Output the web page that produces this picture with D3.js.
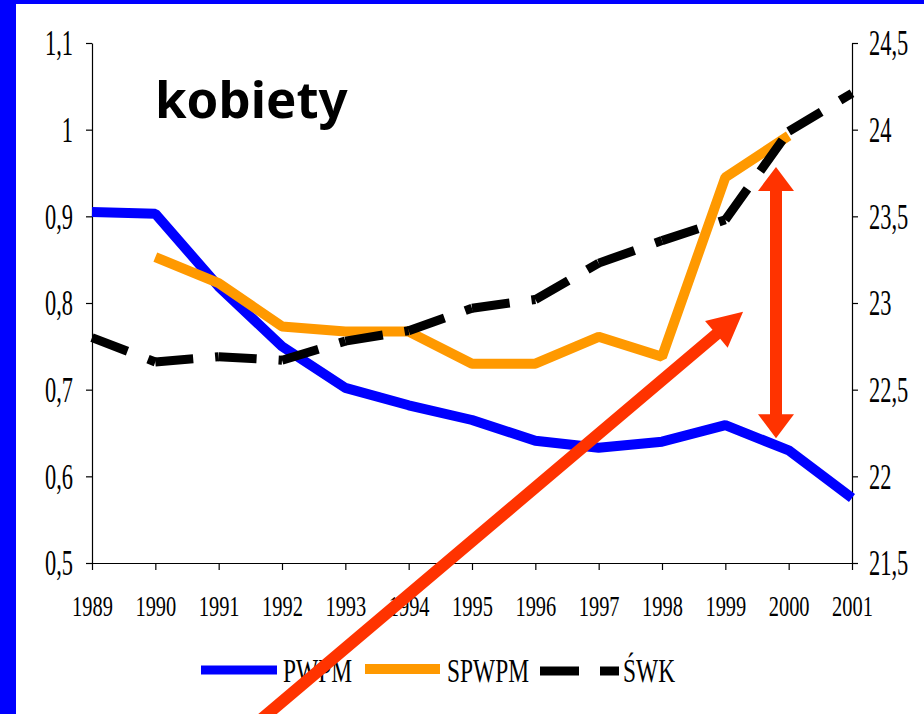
<!DOCTYPE html>
<html>
<head>
<meta charset="utf-8">
<script src="https://cdn.jsdelivr.net/npm/d3@7"></script>
<style>
  body { margin: 0; background: #fff; }
  svg { display: block; }
</style>
</head>
<body>
<div id="chart"></div>
<script>
// Data
const years = [1989, 1990, 1991, 1992, 1993, 1994, 1995, 1996, 1997, 1998, 1999, 2000, 2001];
const pwpm  = [0.905, 0.903, 0.819, 0.750, 0.702, 0.682, 0.665, 0.641, 0.633, 0.640, 0.659, 0.630, 0.575];
const spwpm = [null, 0.853, 0.823, 0.773, 0.767, 0.767, 0.730, 0.730, 0.761, 0.738, 0.945, 0.993, null];
const swk   = [22.80, 22.66, 22.69, 22.67, 22.78, 22.84, 22.97, 23.02, 23.23, 23.36, 23.48, 23.99, 24.21];
const leftTicks  = [0.5, 0.6, 0.7, 0.8, 0.9, 1.0, 1.1];
const rightTicks = [21.5, 22, 22.5, 23, 23.5, 24, 24.5];
const legendNames = ["PWPM", "SPWPM", "ŚWK"];
const title = "kobiety";
// annotation arrows, in data units (year, left-axis value)
const arrowDiag = [[1991.29, 0.296], [1999.28, 0.790]];
const arrowVert = [[1999.8, 0.644], [1999.8, 0.957]];

const width = 924, height = 714;
const margin = { top: 43, right: 72, bottom: 151, left: 92 };

const svg = d3.select("#chart").append("svg")
    .attr("width", width)
    .attr("height", height);

// blue frame (top + left)
svg.append("rect").attr("x", 0).attr("y", 0).attr("width", width).attr("height", 4).attr("fill", "#0000ff");
svg.append("rect").attr("x", 0).attr("y", 0).attr("width", 16).attr("height", height).attr("fill", "#0000ff");

const x = d3.scalePoint()
    .domain(years)
    .range([margin.left, width - margin.right]);
const xYear = d3.scaleLinear()
    .domain([years[0], years[years.length - 1]])
    .range([margin.left, width - margin.right]);
const yL = d3.scaleLinear().domain([0.5, 1.1]).range([height - margin.bottom, margin.top]);
const yR = d3.scaleLinear().domain([21.5, 24.5]).range([height - margin.bottom, margin.top]);

const pl = d3.formatLocale({ decimal: ",", thousands: " ", grouping: [3], currency: ["", " zł"] });
const fmt = pl.format(".1~f");

const serif = "'Liberation Serif', 'Times New Roman', serif";

// Axes
const gL = svg.append("g")
    .attr("transform", `translate(${margin.left},0)`)
    .call(d3.axisLeft(yL).tickValues(leftTicks).tickFormat(fmt).tickSize(6).tickSizeOuter(0));
gL.selectAll("text")
    .attr("x", -19 / 0.64).attr("dy", "0.34em")
    .attr("transform", "scale(0.64,1)")
    .style("font-family", serif).style("font-size", "35px").attr("fill", "#000");

const gR = svg.append("g")
    .attr("transform", `translate(${width - margin.right},0)`)
    .call(d3.axisRight(yR).tickValues(rightTicks).tickFormat(fmt).tickSize(6).tickSizeOuter(0));
gR.selectAll("text")
    .attr("x", 17 / 0.64).attr("dy", "0.34em")
    .attr("transform", "scale(0.64,1)")
    .style("font-family", serif).style("font-size", "35px").attr("fill", "#000");

const gX = svg.append("g")
    .attr("transform", `translate(0,${height - margin.bottom})`)
    .call(d3.axisBottom(x).tickSize(7).tickSizeOuter(0));
gX.selectAll("text")
    .attr("y", 53).attr("dy", 0)
    .attr("transform", "scale(0.68,1)")
    .style("font-family", serif).style("font-size", "30px").attr("fill", "#000");
gX.selectAll(".tick text").each(function(d) {
    d3.select(this).attr("x", 0);
});

svg.selectAll(".domain, .tick line").attr("stroke", "#000").attr("stroke-width", 1.2);

// Lines
const lineL = d3.line()
    .defined(d => d.v != null)
    .x(d => x(d.year))
    .y(d => yL(d.v));

svg.append("path")
    .datum(years.map((year, i) => ({ year, v: pwpm[i] })))
    .attr("fill", "none")
    .attr("stroke", "#0000ff")
    .attr("stroke-width", 10)
    .attr("stroke-linejoin", "bevel")
    .attr("d", lineL);

svg.append("path")
    .datum(years.map((year, i) => ({ year, v: spwpm[i] })))
    .attr("fill", "none")
    .attr("stroke", "#ff9900")
    .attr("stroke-width", 10)
    .attr("stroke-linejoin", "bevel")
    .attr("d", lineL);

// dashed line, one piece per segment so the dash restarts at each year
const swkSegs = d3.pairs(years.map((year, i) => ({ year, v: swk[i] })));
svg.append("g").selectAll("line")
    .data(swkSegs)
    .join("line")
    .attr("x1", d => x(d[0].year))
    .attr("y1", d => yR(d[0].v))
    .attr("x2", d => x(d[1].year))
    .attr("y2", d => yR(d[1].v))
    .attr("stroke", "#000")
    .attr("stroke-width", 9)
    .attr("stroke-dasharray", "38,22");

// Title
svg.append("text")
    .attr("x", 155)
    .attr("y", 118)
    .attr("font-family", "'Noto Sans', sans-serif")
    .attr("font-weight", "bold")
    .attr("font-size", "51px")
    .attr("fill", "#000")
    .text(title);

// Legend
const legend = [
    { name: legendNames[0], color: "#0000ff", x1: 201, x2: 277, tx: 283, y: 670, dash: null, w: 9 },
    { name: legendNames[1], color: "#ff9900", x1: 365, x2: 440, tx: 447, y: 669, dash: null, w: 10 },
    { name: legendNames[2], color: "#000",    x1: 540, x2: 619, tx: 623, y: 671, dash: "39,21", w: 9 }
];
const lg = svg.append("g").selectAll("g").data(legend).join("g");
lg.append("line")
    .attr("x1", d => d.x1).attr("x2", d => d.x2)
    .attr("y1", d => d.y).attr("y2", d => d.y)
    .attr("stroke", d => d.color)
    .attr("stroke-width", d => d.w)
    .attr("stroke-dasharray", d => d.dash);
lg.append("text")
    .attr("transform", d => `translate(${d.tx},682) scale(0.71,1)`)
    .attr("font-family", serif)
    .attr("font-size", "33px")
    .attr("fill", "#000")
    .text(d => d.name);

// Red arrows
function arrowPath(p0, p1, shaft, headW, headL, both) {
    const dx = p1[0] - p0[0], dy = p1[1] - p0[1];
    const len = Math.hypot(dx, dy);
    const ux = dx / len, uy = dy / len, nx = -uy, ny = ux;
    const pt = (t, s) => [p0[0] + ux * t + nx * s, p0[1] + uy * t + ny * s];
    const a = both ? headL : 0;
    const pts = [];
    if (both) {
        pts.push(pt(0, 0), pt(a, headW / 2), pt(a, shaft / 2));
    } else {
        pts.push(pt(0, shaft / 2));
    }
    pts.push(pt(len - headL, shaft / 2), pt(len - headL, headW / 2), pt(len, 0),
             pt(len - headL, -headW / 2), pt(len - headL, -shaft / 2));
    if (both) {
        pts.push(pt(a, -shaft / 2), pt(a, -headW / 2));
    } else {
        pts.push(pt(0, -shaft / 2));
    }
    return "M" + pts.map(p => p.join(",")).join("L") + "Z";
}

const toPx = d => [xYear(d[0]), yL(d[1])];
svg.append("path")
    .attr("d", arrowPath(toPx(arrowDiag[0]), toPx(arrowDiag[1]), 12, 35, 35, false))
    .attr("fill", "#ff3300");
svg.append("path")
    .attr("d", arrowPath(toPx(arrowVert[0]), toPx(arrowVert[1]), 12, 36, 24, true))
    .attr("fill", "#ff3300");
</script>
</body>
</html>
